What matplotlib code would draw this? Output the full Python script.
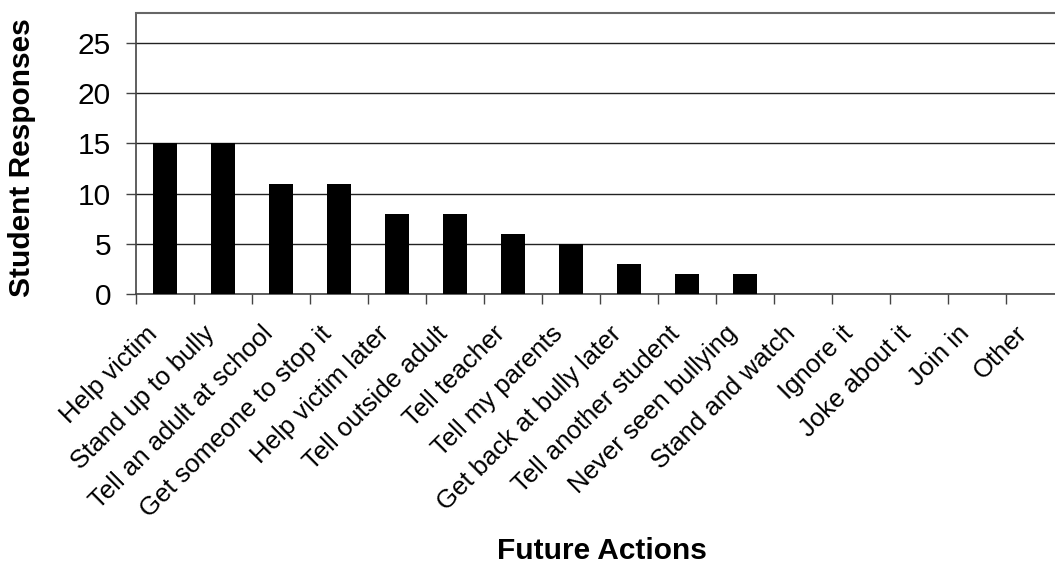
import matplotlib
matplotlib.use("Agg")
import matplotlib.pyplot as plt
import matplotlib.transforms as mtransforms
import numpy as np

plt.rcParams['font.family'] = ['Liberation Sans', 'DejaVu Sans']

actions = ["Help victim", "Stand up to bully", "Tell an adult at school",
           "Get someone to stop it", "Help victim later", "Tell outside adult",
           "Tell teacher", "Tell my parents", "Get back at bully later",
           "Tell another student", "Never seen bullying", "Stand and watch",
           "Ignore it", "Joke about it", "Join in", "Other"]
responses = [15, 15, 11, 11, 8, 8, 6, 5, 3, 2, 2, 0, 0, 0, 0, 0]
y_ticks = [0, 5, 10, 15, 20, 25]

W, H = 1055, 567
fig = plt.figure(figsize=(W / 100, H / 100), dpi=100)
left, right, top, bottom = 136, 1064, 13, 294
ax = fig.add_axes([left / W, 1 - bottom / H, (right - left) / W, (bottom - top) / H])

x = np.arange(len(actions))
ax.bar(x, responses, width=0.43, color="black", zorder=3)

ax.set_xlim(-0.5, len(actions) - 0.5)
ax.set_ylim(0, 28)
ax.set_yticks(y_ticks)
ax.yaxis.grid(True, color="#222222", linewidth=1.0, zorder=0)
ax.set_axisbelow(True)

# category separators as ticks, labels at category centres
ax.set_xticks(np.arange(len(actions) + 1) - 0.5)
ax.set_xticklabels([])
ax.set_xticks(x, minor=True)
ax.set_xticklabels(actions, minor=True, rotation=45, ha="right", va="top",
                   rotation_mode="anchor", fontsize=18.5)
ax.tick_params(axis="x", which="minor", length=0, pad=14)
ax.tick_params(axis="x", which="major", length=7, width=1, color="#444444", direction="out")
ax.tick_params(axis="y", length=7, width=1, color="#444444", labelsize=21.5, pad=11)

shift = mtransforms.ScaledTranslation(-20 / 100, -8 / 100, fig.dpi_scale_trans)
for lbl in ax.get_xticklabels(minor=True):
    lbl.set_transform(lbl.get_transform() + shift)

for s in ["top", "right"]:
    ax.spines[s].set_color("#666666")
    ax.spines[s].set_linewidth(1.5)
ax.spines["left"].set_color("#444444")
ax.spines["left"].set_linewidth(1.2)
ax.spines["bottom"].set_color("#444444")
ax.spines["bottom"].set_linewidth(1.2)

fig.text(22 / W, 1 - 158 / H, "Student Responses", rotation=90, ha="center", va="center",
         fontsize=21.5, fontweight="bold")
fig.text(602 / W, 1 - 551 / H, "Future Actions", ha="center", va="center",
         fontsize=21.5, fontweight="bold")

fig.savefig("out.png", dpi=100)
